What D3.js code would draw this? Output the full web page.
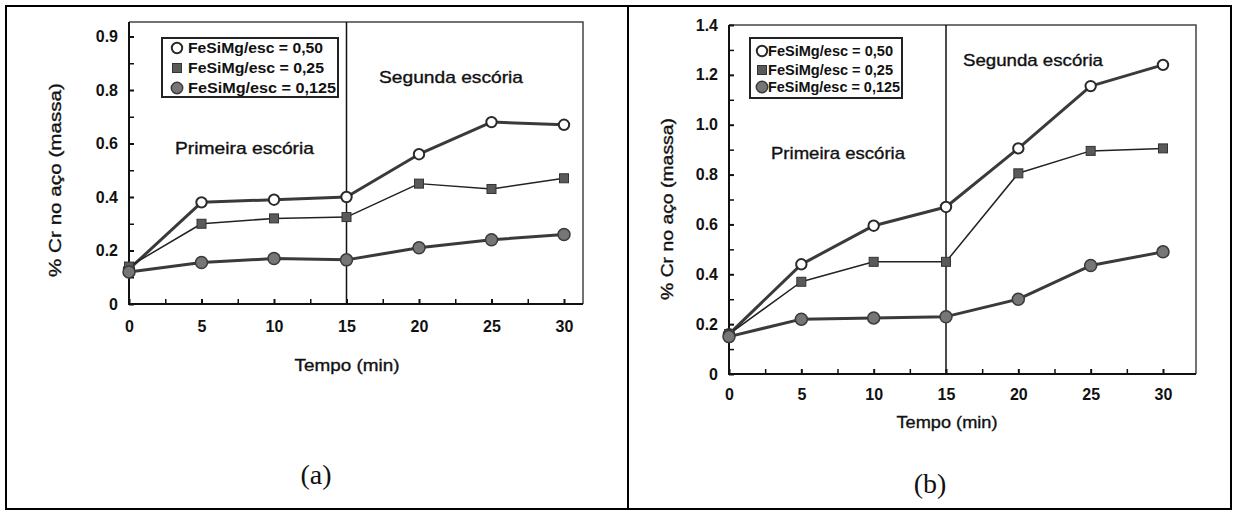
<!DOCTYPE html>
<html>
<head>
<meta charset="utf-8">
<script src="https://cdn.jsdelivr.net/npm/d3@7"></script>
<style>
  html, body { margin: 0; padding: 0; background: #fff; }
  svg { display: block; }
  text { font-family: "Liberation Sans", Arial, sans-serif; fill: #111; }
  .heavy { stroke: #111; stroke-width: 0.35px; }
</style>
</head>
<body>
<svg id="fig" width="1235" height="512"></svg>
<script>
// Tempo (min)
const times = [0, 5, 10, 15, 20, 25, 30];
const xTickValues = [0, 5, 10, 15, 20, 25, 30];
const xTickLabels = ["0", "5", "10", "15", "20", "25", "30"];
const xMinorValues = [2.5, 7.5, 12.5, 17.5, 22.5, 27.5];

const seriesNames = ["FeSiMg/esc = 0,50", "FeSiMg/esc = 0,25", "FeSiMg/esc = 0,125"];

// Painel (a): % Cr no aço
const crA_050  = [0.13, 0.38, 0.39, 0.40, 0.56, 0.68, 0.67];
const crA_025  = [0.14, 0.30, 0.32, 0.325, 0.45, 0.43, 0.47];
const crA_0125 = [0.12, 0.155, 0.17, 0.165, 0.21, 0.24, 0.26];
const yTicksA = [0, 0.2, 0.4, 0.6, 0.8, 1.0];
const yTickLabelsA = ["0", "0.2", "0.4", "0.6", "0.8", "0.9"];
const yMinorA = [0.1, 0.3, 0.5, 0.7, 0.9];

// Painel (b): % Cr no aço
const crB_050  = [0.16, 0.44, 0.595, 0.67, 0.905, 1.155, 1.24];
const crB_025  = [0.16, 0.37, 0.45, 0.45, 0.805, 0.895, 0.905];
const crB_0125 = [0.15, 0.22, 0.225, 0.23, 0.30, 0.435, 0.49];
const yTicksB = [0, 0.2, 0.4, 0.6, 0.8, 1.0, 1.2, 1.4];
const yTickLabelsB = ["0", "0.2", "0.4", "0.6", "0.8", "1.0", "1.2", "1.4"];
const yMinorB = [0.1, 0.3, 0.5, 0.7, 0.9, 1.1, 1.3];

const svg = d3.select("#fig");

// table frame around both panels
svg.append("rect").attr("x", 6).attr("y", 6).attr("width", 1225).attr("height", 503)
  .attr("fill", "none").attr("stroke", "#000").attr("stroke-width", 2);
svg.append("line").attr("x1", 628).attr("x2", 628).attr("y1", 6).attr("y2", 509)
  .attr("stroke", "#000").attr("stroke-width", 2);

const lineStyles = [
  { stroke: "#3a3a3a", width: 3 },
  { stroke: "#222", width: 1.5 },
  { stroke: "#3a3a3a", width: 3 }
];

function drawMarker(g, kind, cx, cy, s) {
  if (kind === 0) {
    g.append("circle").attr("cx", cx).attr("cy", cy).attr("r", 5.2 * s)
      .attr("fill", "#fff").attr("stroke", "#2a2a2a").attr("stroke-width", 2);
  } else if (kind === 1) {
    const a = 9 * s;
    g.append("rect").attr("x", cx - a / 2).attr("y", cy - a / 2).attr("width", a).attr("height", a)
      .attr("fill", "#5a5a5a").attr("stroke", "#333").attr("stroke-width", 1);
  } else {
    g.append("circle").attr("cx", cx).attr("cy", cy).attr("r", 6 * s)
      .attr("fill", "#767676").attr("stroke", "#3a3a3a").attr("stroke-width", 1.5);
  }
}

function stretchedText(g, str, x, y, len, size, weight, anchor) {
  return g.append("text").attr("x", x).attr("y", y).attr("dy", "0.35em")
    .attr("class", weight === "normal" ? "heavy" : null)
    .attr("text-anchor", anchor || "start")
    .attr("font-size", size).attr("font-weight", weight)
    .attr("textLength", len).attr("lengthAdjust", "spacingAndGlyphs")
    .text(str);
}

function drawPanel(p) {
  const g = svg.append("g");
  const x = d3.scaleLinear().domain([0, 30]).range(p.xRange);
  const y = d3.scaleLinear().domain(p.yDomain).range(p.yRange);
  const left = p.xRange[0], bottom = p.yRange[0];

  // plot frame (top / right)
  g.append("path")
    .attr("d", `M${left},${p.frameTop}H${p.frameRight}V${bottom}`)
    .attr("fill", "none").attr("stroke", "#444").attr("stroke-width", 1.5);

  // divider between first and second slag
  g.append("line").attr("x1", x(15)).attr("x2", x(15))
    .attr("y1", p.frameTop).attr("y2", bottom)
    .attr("stroke", "#111").attr("stroke-width", 1.5);

  // x axis
  const xAxis = d3.axisBottom(x).tickValues(xTickValues)
    .tickFormat((d, i) => xTickLabels[i]).tickSize(-5).tickPadding(p.xPad);
  const gx = g.append("g").attr("transform", `translate(0,${bottom})`).call(xAxis);
  gx.select(".domain").remove();
  gx.selectAll(".tick line").attr("stroke", "#111").attr("stroke-width", 2);
  gx.selectAll(".tick text").attr("font-size", 16).attr("font-weight", "bold")
    .attr("font-family", "Liberation Sans, Arial, sans-serif").attr("fill", "#111");
  const gxm = g.append("g").attr("transform", `translate(0,${bottom})`)
    .call(d3.axisBottom(x).tickValues(xMinorValues).tickFormat("").tickSize(-5));
  gxm.select(".domain").remove();
  gxm.selectAll(".tick line").attr("stroke", "#111").attr("stroke-width", 1.5);

  // y axis
  const yAxis = d3.axisLeft(y).tickValues(p.yTicks)
    .tickFormat((d, i) => p.yLabels[i]).tickSize(-5).tickPadding(11);
  const gy = g.append("g").attr("transform", `translate(${left},0)`).call(yAxis);
  gy.select(".domain").remove();
  gy.selectAll(".tick line").attr("stroke", "#111").attr("stroke-width", 2);
  gy.selectAll(".tick text").attr("font-size", 16).attr("font-weight", "bold")
    .attr("font-family", "Liberation Sans, Arial, sans-serif").attr("fill", "#111");
  const gym = g.append("g").attr("transform", `translate(${left},0)`)
    .call(d3.axisLeft(y).tickValues(p.yMinor).tickFormat("").tickSize(-5));
  gym.select(".domain").remove();
  gym.selectAll(".tick line").attr("stroke", "#111").attr("stroke-width", 1.5);

  // axis lines
  g.append("path")
    .attr("d", `M${left},${p.frameTop}V${bottom}H${p.frameRight}`)
    .attr("fill", "none").attr("stroke", "#111").attr("stroke-width", 2);

  // series lines then markers
  const line = d3.line().x((d, i) => x(times[i])).y(d => y(d));
  p.series.forEach((vals, k) => {
    g.append("path").datum(vals).attr("d", line)
      .attr("fill", "none").attr("stroke", lineStyles[k].stroke)
      .attr("stroke-width", lineStyles[k].width).attr("stroke-linejoin", "round");
  });
  p.series.forEach((vals, k) => {
    vals.forEach((v, i) => drawMarker(g, k, x(times[i]), y(v), 1));
  });

  // region labels
  stretchedText(g, "Primeira escória", p.prim[0], p.prim[1], p.prim[2], 17, "normal");
  stretchedText(g, "Segunda escória", p.seg[0], p.seg[1], p.seg[2], 17, "normal");

  // axis titles
  stretchedText(g, "Tempo (min)", p.xTitle[0], p.xTitle[1], p.xTitle[2], 17, "normal", "middle");
  g.append("text").attr("class", "heavy")
    .attr("transform", `translate(${p.yTitle[0]},${p.yTitle[1]}) rotate(-90)`)
    .attr("dy", "0.35em").attr("text-anchor", "middle")
    .attr("font-size", 17).attr("textLength", p.yTitle[2]).attr("lengthAdjust", "spacingAndGlyphs")
    .text("% Cr no aço (massa)");

  // legend
  const L = p.legend;
  g.append("rect").attr("x", L.x0).attr("y", L.y0).attr("width", L.x1 - L.x0).attr("height", L.y1 - L.y0)
    .attr("fill", "#fff").attr("stroke", "#222").attr("stroke-width", 2);
  seriesNames.forEach((name, k) => {
    drawMarker(g, k, L.mx, L.rows[k], k === 2 ? 0.95 : 1);
    stretchedText(g, name, L.tx, L.rows[k], L.lens[k], L.size, "bold");
  });

  // panel caption
  g.append("text").attr("x", p.caption[0]).attr("y", p.caption[1]).attr("dy", "0.35em")
    .attr("text-anchor", "middle").attr("font-size", 28)
    .style("font-family", "'Liberation Serif', 'Times New Roman', serif")
    .text(p.caption[2]);
}

drawPanel({
  xRange: [129, 564], yDomain: [0, 1], yRange: [304, 36.5],
  frameTop: 22, frameRight: 583, xPad: 17,
  yTicks: yTicksA, yLabels: yTickLabelsA, yMinor: yMinorA,
  series: [crA_050, crA_025, crA_0125],
  prim: [175, 148, 139], seg: [379, 77, 144],
  xTitle: [347, 365, 105], yTitle: [55, 180, 194],
  legend: { x0: 162, y0: 38, x1: 338, y1: 97, mx: 177, tx: 188, rows: [48, 68, 88], lens: [135, 136, 148], size: 15.5 },
  caption: [316, 474, "(a)"]
});

drawPanel({
  xRange: [729, 1163], yDomain: [0, 1.4], yRange: [374, 25],
  frameTop: 25, frameRight: 1196, xPad: 15,
  yTicks: yTicksB, yLabels: yTickLabelsB, yMinor: yMinorB,
  series: [crB_050, crB_025, crB_0125],
  prim: [771, 153, 134], seg: [963, 60, 140],
  xTitle: [947, 422, 101], yTitle: [667, 209, 182],
  legend: { x0: 750, y0: 38, x1: 902, y1: 98, mx: 762, tx: 768, rows: [51, 70, 87], lens: [125, 125, 132], size: 15 },
  caption: [930, 483, "(b)"]
});
</script>
</body>
</html>
